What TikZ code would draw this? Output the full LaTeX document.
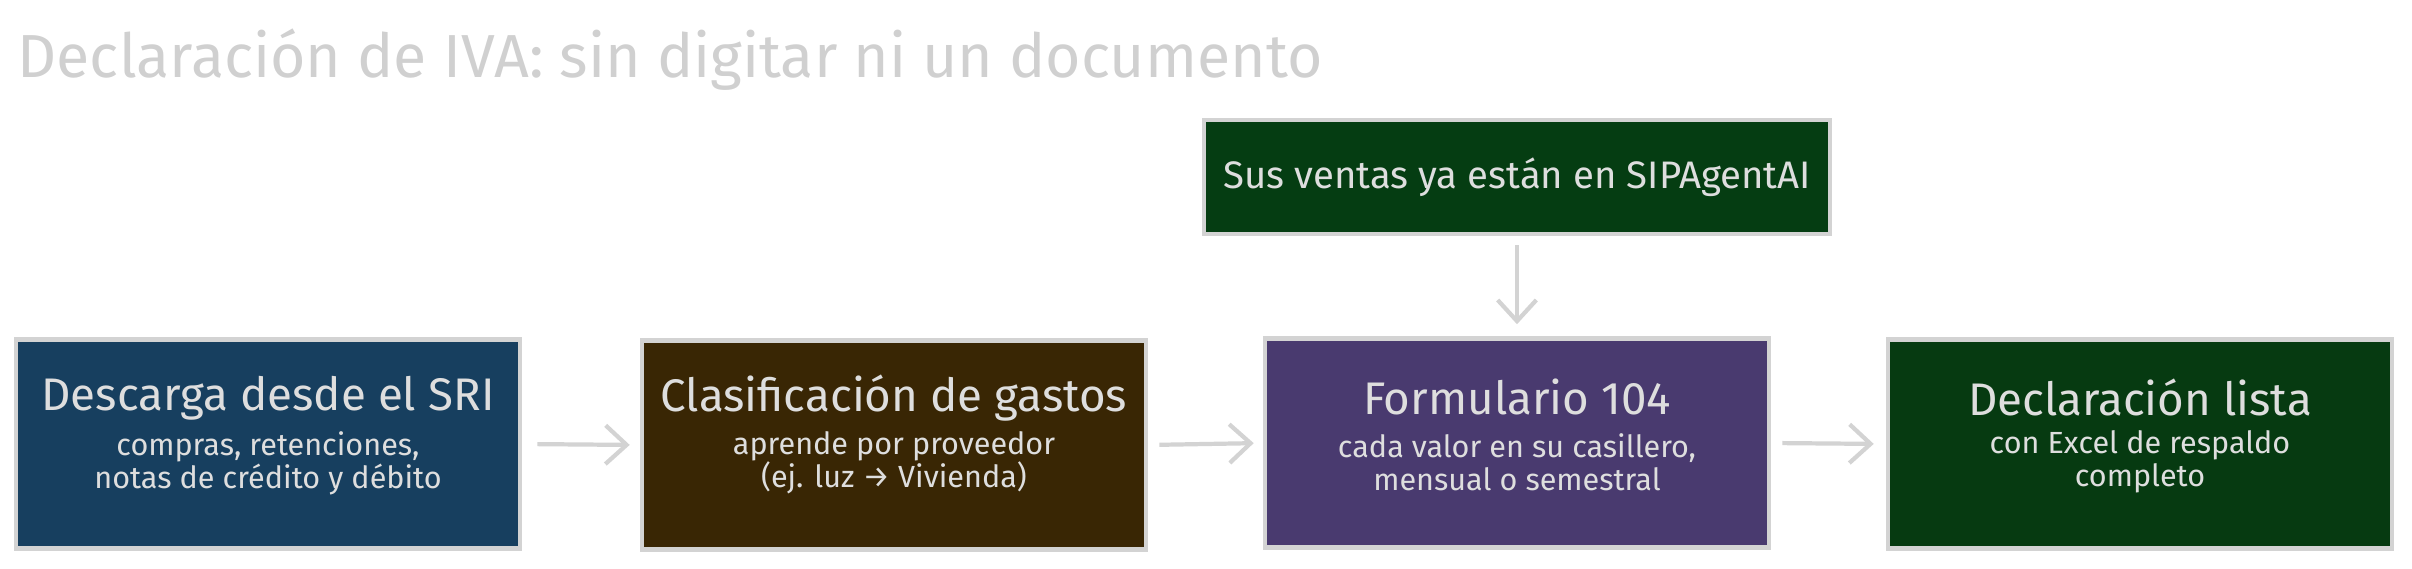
\documentclass[tikz,border=0pt]{standalone}
\usepackage{fontspec}
\setmainfont{Fira Sans}
\usepackage{tikz}
\usetikzlibrary{arrows.meta,positioning}
\usepackage{xcolor}
\definecolor{sketchgray}{HTML}{D3D3D3}
\definecolor{inkgray}{HTML}{DEDEDE}
\definecolor{titlegray}{HTML}{D0D0D0}
\definecolor{sriblue}{HTML}{173F5F}
\definecolor{gastobrown}{HTML}{392604}
\definecolor{formpurple}{HTML}{493A6F}
\definecolor{listagreen}{HTML}{063A11}
\definecolor{ventagreen}{HTML}{053D12}
\pgfdeclarelayer{edgelayer}
\pgfdeclarelayer{nodelayer}
\pgfsetlayers{edgelayer,nodelayer,main}
\tikzstyle{stepbox}=[rectangle,draw=sketchgray,line width=1.3pt,minimum width=5.04cm,minimum height=2.09cm]
\tikzstyle{boxtitle}=[text=inkgray,font=\fontsize{13}{15}\selectfont,inner sep=0pt]
\tikzstyle{boxsub}=[text=inkgray,font=\fontsize{8.7}{9.3}\selectfont,align=center,inner sep=0pt]
\tikzstyle{flowarrow}=[-{Straight Barb[length=6pt,width=11pt,line width=1.2pt]},draw=sketchgray,line width=1.2pt]
\tikzstyle{none}=[inner sep=0pt]

\begin{document}
\begin{tikzpicture}
	\useasboundingbox (0,0) rectangle (24.12,5.68);
	\begin{pgfonlayer}{nodelayer}
		\node [style=none, anchor=west, text=titlegray, font=\fontsize{17.3}{20}\selectfont] (title) at (0.17,5.08) {Declaración de IVA: sin digitar ni un documento};

		\node [style=stepbox, fill=ventagreen, minimum width=6.26cm, minimum height=1.14cm] (ventas) at (15.17,3.91) {};
		\node [style=boxtitle, font=\fontsize{10.9}{13}\selectfont] (ventasT) at (15.17,3.91) {Sus ventas ya están en SIPAgentAI};

		\node [style=stepbox, fill=sriblue] (sri) at (2.68,1.24) {};
		\node [style=boxtitle] (sriT) at (2.68,1.70) {Descarga desde el SRI};
		\node [style=boxsub] (sriS) at (2.68,1.05) {compras, retenciones,\\notas de crédito y débito};

		\node [style=stepbox, fill=gastobrown] (gastos) at (8.94,1.23) {};
		\node [style=boxtitle] (gastosT) at (8.94,1.70) {Clasificación de gastos};
		\node [style=boxsub] (gastosS) at (8.94,1.05) {aprende por proveedor\\(ej. luz → Vivienda)};

		\node [style=stepbox, fill=formpurple] (form) at (15.17,1.25) {};
		\node [style=boxtitle] (formT) at (15.17,1.71) {Formulario 104};
		\node [style=boxsub] (formS) at (15.17,1.06) {cada valor en su casillero,\\mensual o semestral};

		\node [style=stepbox, fill=listagreen] (lista) at (21.40,1.24) {};
		\node [style=boxtitle] (listaT) at (21.40,1.71) {Declaración lista};
		\node [style=boxsub] (listaS) at (21.40,1.06) {con Excel de respaldo\\completo};
	\end{pgfonlayer}
	\begin{pgfonlayer}{edgelayer}
		\draw [style=flowarrow, shorten <=0.15cm, shorten >=0.10cm] (sri.east) to (gastos.west);
		\draw [style=flowarrow, shorten <=0.11cm, shorten >=0.09cm] (gastos.east) to (form.west);
		\draw [style=flowarrow, shorten <=0.11cm, shorten >=0.12cm] (form.east) to (lista.west);
		\draw [style=flowarrow, shorten <=0.09cm, shorten >=0.12cm] (ventas.south) to (form.north);
	\end{pgfonlayer}
\end{tikzpicture}
\end{document}
